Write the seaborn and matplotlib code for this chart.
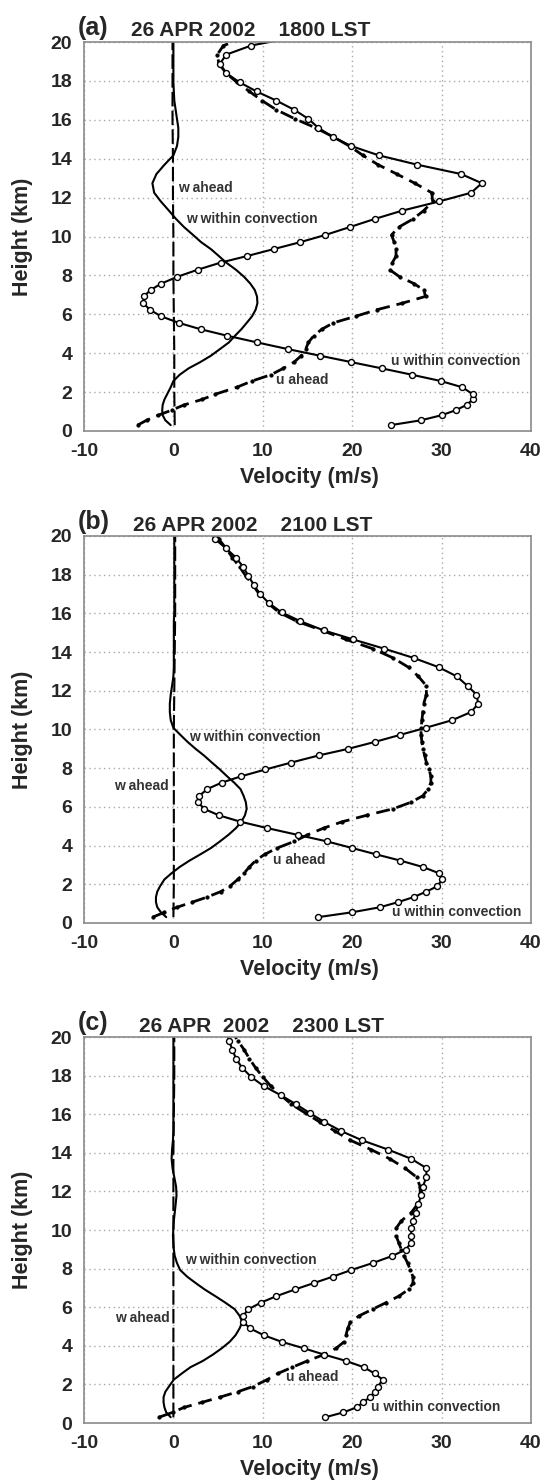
import matplotlib
matplotlib.use("Agg")
import matplotlib.pyplot as plt
import seaborn as sns

# model levels (km) shared by the u / w profiles
z_levels = [0.30, 0.55, 0.81, 1.07, 1.34, 1.62, 1.89, 2.25, 2.57, 2.89, 3.22, 3.54, 3.87,
            4.21, 4.55, 4.90, 5.23, 5.56, 5.90, 6.24, 6.57, 6.92, 7.25, 7.58, 7.93, 8.29,
            8.66, 8.99, 9.35, 9.71, 10.08, 10.48, 10.90, 11.33, 11.80, 12.25, 12.74, 13.21,
            13.69, 14.17, 14.65, 15.12, 15.59, 16.05, 16.52, 16.99, 17.46, 17.93, 18.40,
            18.88, 19.35, 19.82, 20.29]

# (a) 1800 LST
u_within_a = [24.3, 27.7, 30.0, 31.6, 32.8, 33.5, 33.5, 32.3, 29.9, 26.7, 23.3, 19.9, 16.4,
              12.8, 9.4, 6.0, 3.05, 0.6, -1.4, -2.65, -3.35, -3.3, -2.55, -1.35, 0.45, 2.7,
              5.3, 8.2, 11.2, 14.2, 17.0, 19.7, 22.5, 25.6, 29.7, 33.3, 34.5, 32.2,
              27.3, 23.0, 19.9, 17.8, 16.2, 15.1, 13.5, 11.5, 9.3, 7.4, 5.9,
              5.2, 5.9, 8.7, 14.0]
u_ahead_a = [-4.0, -3.0, -1.7, -0.2, 1.2, 3.2, 4.7, 7.1, 8.8, 10.9, 12.3, 13.5, 14.3,
             14.8, 15.1, 15.7, 16.6, 17.9, 20.4, 22.8, 25.6, 28.2, 28.0, 26.9, 25.3, 24.2,
             24.5, 24.9, 24.9, 24.7, 24.4, 25.2, 26.8, 28.0, 29.0, 28.9, 27.0, 25.0,
             22.9, 21.2, 19.7, 17.9, 15.9, 13.6, 11.5, 9.9, 8.5, 7.1, 5.9,
             5.1, 4.9, 5.6, 8.5]
w_within_a = [-0.3, -0.9, -1.2, -1.25, -1.2, -1.0, -0.7, -0.3, 0.0, 0.7, 1.7, 3.0, 4.2,
              5.2, 6.2, 6.9, 7.6, 8.2, 8.8, 9.2, 9.4, 9.35, 9.1, 8.6, 7.9, 7.0,
              5.9, 5.1, 4.2, 3.1, 2.2, 1.2, 0.3, -0.5, -1.4, -2.15, -2.35, -1.9,
              -1.0, 0.0, 0.4, 0.55, 0.55, 0.4, 0.25, 0.1, 0.05, 0.0, 0.0,
              0.0, 0.0, 0.0, 0.0]

# (b) 2100 LST
u_within_b = [16.2, 20.0, 23.1, 25.1, 26.9, 28.3, 29.5, 30.1, 29.7, 27.9, 25.4, 22.7, 20.0,
              17.2, 13.9, 10.5, 7.5, 5.1, 3.4, 2.8, 2.9, 3.8, 5.4, 7.6, 10.3, 13.2,
              16.3, 19.5, 22.5, 25.3, 28.2, 31.2, 33.3, 34.1, 33.9, 32.9, 31.7, 29.7,
              26.9, 23.6, 20.1, 16.8, 14.2, 12.1, 10.7, 9.7, 9.0, 8.4, 7.8,
              7.0, 5.9, 4.7, 4.0]
u_ahead_b = [-2.3, -1.0, 0.4, 2.1, 3.8, 5.3, 6.3, 7.2, 7.9, 8.5, 9.2, 10.2, 11.6,
             13.5, 15.0, 16.8, 18.9, 21.6, 24.6, 26.6, 27.9, 28.5, 28.8, 28.8, 28.6, 28.3,
             28.1, 27.9, 27.8, 27.7, 27.7, 27.8, 27.9, 28.0, 28.3, 28.3, 27.4, 26.3,
             24.6, 22.3, 19.3, 16.6, 13.8, 11.8, 10.6, 9.6, 8.9, 8.1, 7.4,
             6.6, 5.9, 5.1, 4.6]
w_within_b = [-0.8, -1.4, -1.8, -1.95, -1.95, -1.8, -1.5, -1.0, -0.2, 0.7, 1.8, 3.0, 4.2,
              5.2, 6.15, 7.0, 7.6, 8.0, 8.2, 8.1, 7.85, 7.5, 6.8, 6.0, 5.2, 4.3,
              3.4, 2.5, 1.6, 0.8, 0.0, -0.3, -0.4, -0.4, -0.3, -0.15, 0.0, 0.05,
              0.05, 0.05, 0.05, 0.05, 0.05, 0.1, 0.1, 0.1, 0.1, 0.1, 0.1,
              0.1, 0.1, 0.1, 0.1]

# (c) 2300 LST
u_within_c = [17.0, 19.0, 20.5, 21.2, 22.0, 22.5, 22.9, 23.4, 22.5, 21.3, 19.3, 16.9, 14.6,
              12.1, 10.1, 8.6, 7.8, 7.8, 8.4, 9.8, 11.5, 13.6, 15.7, 17.8, 19.9, 22.3,
              24.5, 26.0, 26.6, 26.6, 26.6, 26.8, 27.1, 27.4, 27.7, 27.9, 28.3, 28.3,
              26.6, 24.0, 21.1, 18.8, 16.9, 15.3, 13.7, 12.0, 10.1, 8.7, 7.7,
              7.0, 6.6, 6.2, 6.0]
u_ahead_c = [-1.6, -0.1, 1.2, 3.2, 5.2, 7.2, 8.9, 10.5, 11.7, 13.3, 15.0, 16.8, 18.2,
             19.1, 19.3, 19.5, 19.8, 20.8, 22.3, 23.8, 25.2, 26.3, 26.8, 26.8, 26.5, 26.2,
             25.8, 25.5, 25.2, 24.9, 24.9, 25.5, 26.6, 27.3, 27.6, 27.6, 27.2, 25.9,
             24.2, 22.1, 19.8, 18.1, 16.4, 14.8, 13.2, 12.0, 10.9, 10.0, 9.2,
             8.5, 7.9, 7.2, 6.5]
w_within_c = [-0.3, -0.8, -1.0, -1.1, -1.1, -0.9, -0.5, 0.05, 0.95, 1.9, 3.3, 4.4, 5.4,
              6.3, 6.95, 7.4, 7.7, 7.4, 6.85, 5.8, 4.7, 3.5, 2.5, 1.55, 0.75, 0.4,
              0.15, 0.05, 0.0, -0.05, 0.0, 0.05, 0.15, 0.25, 0.35, 0.3, 0.1, -0.1,
              -0.2, -0.15, -0.05, 0.0, 0.0, 0.0, 0.0, 0.0, 0.0, 0.0, 0.0,
              0.0, 0.0, 0.0, 0.0]

# w ahead is almost zero everywhere
w_ahead_levels = [0.30, 2.0, 4.0, 6.0, 8.0, 10.0, 12.0, 14.0, 16.0, 18.0, 20.29]
w_ahead_a = [0.15, 0.1, 0.1, 0.05, 0.0, 0.0, -0.05, -0.05, -0.1, -0.1, -0.1]
w_ahead_b = [0.0, 0.05, 0.05, 0.05, 0.05, 0.05, 0.1, 0.15, 0.2, 0.2, 0.2]
w_ahead_c = [0.0, 0.0, 0.0, 0.0, 0.0, 0.0, 0.0, 0.0, 0.05, 0.1, 0.1]

panel_tags = ["(a)", "(b)", "(c)"]
panel_titles = ["26 APR 2002    1800 LST", "26 APR 2002    2100 LST", "26 APR  2002    2300 LST"]

# label positions: (text, x, y, ha)
labels_a = [("w ahead", 0.5, 12.5, "left"), ("w within convection", 1.4, 10.9, "left"),
            ("u within convection", 24.3, 3.6, "left"), ("u ahead", 11.5, 2.6, "left")]
labels_b = [("w within convection", 1.75, 9.6, "left"), ("w ahead", -0.5, 7.1, "right"),
            ("u ahead", 11.1, 3.27, "left"), ("u within convection", 24.4, 0.55, "left")]
labels_c = [("w within convection", 1.3, 8.45, "left"), ("w ahead", -0.4, 5.43, "right"),
            ("u ahead", 12.6, 2.41, "left"), ("u within convection", 22.1, 0.83, "left")]

sns.set_style("white")
plt.rcParams["font.family"] = ["Liberation Sans", "DejaVu Sans"]
plt.rcParams["font.weight"] = "bold"
plt.rcParams["axes.unicode_minus"] = False

fig = plt.figure(figsize=(5.44, 14.8), dpi=100)

rects = [[0.1544, 0.7088, 0.8217, 0.2628],
         [0.1544, 0.3764, 0.8217, 0.2615],
         [0.1544, 0.0385, 0.8217, 0.2608]]
data = [(u_within_a, u_ahead_a, w_within_a, w_ahead_a, labels_a, 0.105, 1.016),
        (u_within_b, u_ahead_b, w_within_b, w_ahead_b, labels_b, 0.110, 1.012),
        (u_within_c, u_ahead_c, w_within_c, w_ahead_c, labels_c, 0.122, 1.014)]

for i, (u_in, u_ah, w_in, w_ah, labs, tx, ty) in enumerate(data):
    ax = fig.add_axes(rects[i])
    ax.set_axisbelow(True)

    # w ahead
    sns.lineplot(x=w_ah, y=w_ahead_levels, sort=False, estimator=None, ax=ax,
                 color="black", linewidth=1.5, linestyle=(0, (7, 2)))
    # w within convection
    sns.lineplot(x=w_in, y=z_levels, sort=False, estimator=None, ax=ax,
                 color="black", linewidth=1.5)
    # u ahead
    sns.lineplot(x=u_ah, y=z_levels, sort=False, estimator=None, ax=ax,
                 color="black", linewidth=2.0, linestyle=(0, (5, 2.5)),
                 marker="o", markersize=2.3, markerfacecolor="black",
                 markeredgecolor="black")
    # u within convection
    sns.lineplot(x=u_in, y=z_levels, sort=False, estimator=None, ax=ax,
                 color="black", linewidth=1.5, marker="o", markersize=4.3,
                 markerfacecolor="white", markeredgecolor="black", markeredgewidth=1.0)

    ax.set_xlim(-10, 40)
    ax.set_ylim(0, 20)
    ax.set_xticks(range(-10, 41, 10))
    ax.set_yticks(range(0, 21, 2))
    ax.grid(True, color="#a8a8a8", linestyle=(0, (1, 2.5)), linewidth=1.0)
    for sp in ax.spines.values():
        sp.set_color("#8a8a8a")
        sp.set_linewidth(1.2)
    ax.tick_params(direction="out", length=3.5, width=1, color="#8a8a8a",
                   labelsize=14, pad=5)

    ax.set_xlabel("Velocity (m/s)", fontsize=15.5, fontweight="bold")
    ax.set_ylabel("Height (km)", fontsize=15.5, fontweight="bold")
    ax.xaxis.set_label_coords(0.505, -0.092)
    ax.yaxis.set_label_coords(-0.114, 0.5)

    ax.text(-0.013, 1.017, panel_tags[i], transform=ax.transAxes, fontsize=18,
            fontweight="bold", ha="left", va="baseline")
    ax.text(tx, ty, panel_titles[i], transform=ax.transAxes, fontsize=15,
            fontweight="bold", ha="left", va="baseline")

    for s, x, y, ha in labs:
        ax.text(x, y, s, fontsize=10, fontweight="bold", color="#333333",
                ha=ha, va="center")

fig.savefig("out.png", dpi=100)
